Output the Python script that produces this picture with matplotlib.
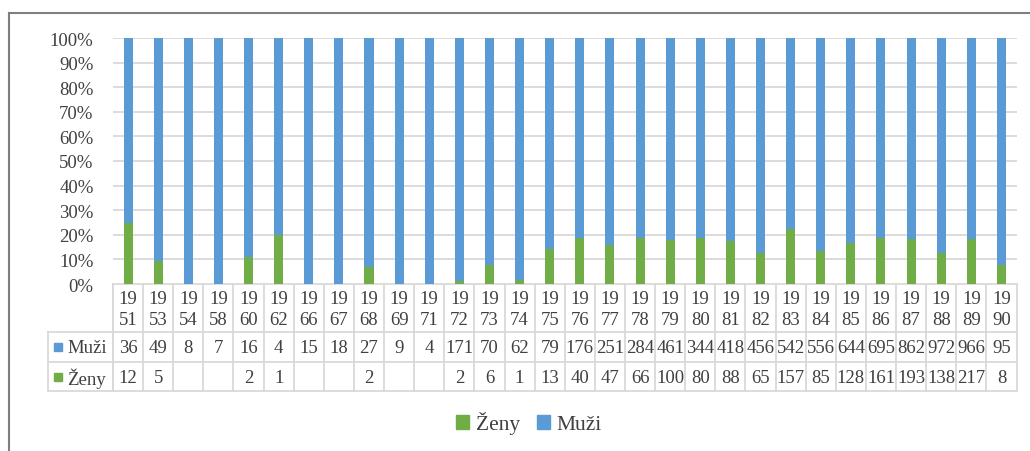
import matplotlib.pyplot as plt
from matplotlib.patches import Patch
from matplotlib.lines import Line2D
from matplotlib.transforms import blended_transform_factory
import numpy as np

# Data
years = ['1951', '1953', '1954', '1958', '1960', '1962', '1966', '1967', '1968', '1969',
         '1971', '1972', '1973', '1974', '1975', '1976', '1977', '1978', '1979', '1980',
         '1981', '1982', '1983', '1984', '1985', '1986', '1987', '1988', '1989', '1990']
muzi = [36, 49, 8, 7, 16, 4, 15, 18, 27, 9, 4, 171, 70, 62, 79, 176, 251, 284, 461, 344,
        418, 456, 542, 556, 644, 695, 862, 972, 966, 95]
zeny = [12, 5, None, None, 2, 1, None, None, 2, None, None, 2, 6, 1, 13, 40, 47, 66, 100, 80,
        88, 65, 157, 85, 128, 161, 193, 138, 217, 8]

blue = '#5B9BD5'
green = '#70AD47'
grid_c = '#D9D9D9'
text_c = '#404040'
plt.rcParams['font.family'] = ['Liberation Serif', 'DejaVu Serif']

W, H = 1030, 452
fig = plt.figure(figsize=(W / 100, H / 100), dpi=100)

# overlay axes in pixel coordinates for the table and frame
ov = fig.add_axes([0, 0, 1, 1])
ov.set_xlim(0, W)
ov.set_ylim(H, 0)
ov.axis('off')

x_left, x_right, y_top, y_bot = 113, 1016.5, 39, 285
ax = fig.add_axes([x_left / W, 1 - y_bot / H, (x_right - x_left) / W, (y_bot - y_top) / H])

n = len(years)
x = np.arange(n)
m = np.array(muzi, dtype=float)
z = np.array([v if v is not None else 0 for v in zeny], dtype=float)
tot = m + z
z_pct = z / tot * 100
m_pct = m / tot * 100

ax.bar(x, z_pct, width=0.3, color=green, zorder=3)
ax.bar(x, m_pct, bottom=z_pct, width=0.3, color=blue, zorder=3)
ax.set_xlim(-0.5, n - 0.5)
ax.set_ylim(0, 100)
ax.set_yticks(range(0, 101, 10))
ax.set_yticklabels([f'{v}%' for v in range(0, 101, 10)], fontsize=13.5, color=text_c)
ax.yaxis.grid(True, color=grid_c, linewidth=1.3, zorder=0)
ax.tick_params(axis='y', length=0, pad=14)
ax.set_xticks([])
for s in ax.spines.values():
    s.set_visible(False)

# data table below the plot
tr = blended_transform_factory(ax.transData, ov.transData)
r0, r1, r2, r3 = 285, 333, 363, 392
tl = dict(color=grid_c, linewidth=1.3, clip_on=False)
for xb in np.arange(n + 1) - 0.5:
    ov.add_line(Line2D([xb, xb], [r0, r3], transform=tr, **tl))
ov.plot([x_left, x_left], [r0, r3], **tl)
ov.plot([48, 48], [r1, r3], **tl)
ov.plot([x_left, x_right], [r0, r0], **tl)
for yy in (r1, r2, r3):
    ov.plot([48, x_right], [yy, yy], **tl)

fs = 13.5
for i, yr in enumerate(years):
    ov.text(i, (r0 + r1) / 2 + 1, yr[:2] + '\n' + yr[2:], transform=tr, ha='center', va='center',
            fontsize=fs, color=text_c, linespacing=1.3)
    ov.text(i, (r1 + r2) / 2 + 1, str(muzi[i]), transform=tr, ha='center', va='center',
            fontsize=fs, color=text_c)
    if zeny[i] is not None:
        ov.text(i, (r2 + r3) / 2 + 1, str(zeny[i]), transform=tr, ha='center', va='center',
                fontsize=fs, color=text_c)

for yy, lab, col in (((r1 + r2) / 2, 'Muži', blue), ((r2 + r3) / 2, 'Ženy', green)):
    ov.add_patch(plt.Rectangle((54, yy - 4), 8, 8, color=col))
    ov.text(67, yy + 1, lab, ha='left', va='center', fontsize=fs, color=text_c)

# outer frame
ov.plot([9, 9], [14, H], color='#7F7F7F', linewidth=1.5)
ov.plot([9, W], [14, 14], color='#7F7F7F', linewidth=1.5)

handles = [Patch(color=green, label='Ženy'), Patch(color=blue, label='Muži')]
fig.legend(handles=handles, loc='center', bbox_to_anchor=(529 / W, 1 - 424 / H), ncol=2,
           frameon=False, fontsize=15.5, handlelength=0.6, handleheight=0.6,
           handletextpad=0.3, columnspacing=0.8, labelcolor=text_c)

fig.savefig('out.png', dpi=100)
